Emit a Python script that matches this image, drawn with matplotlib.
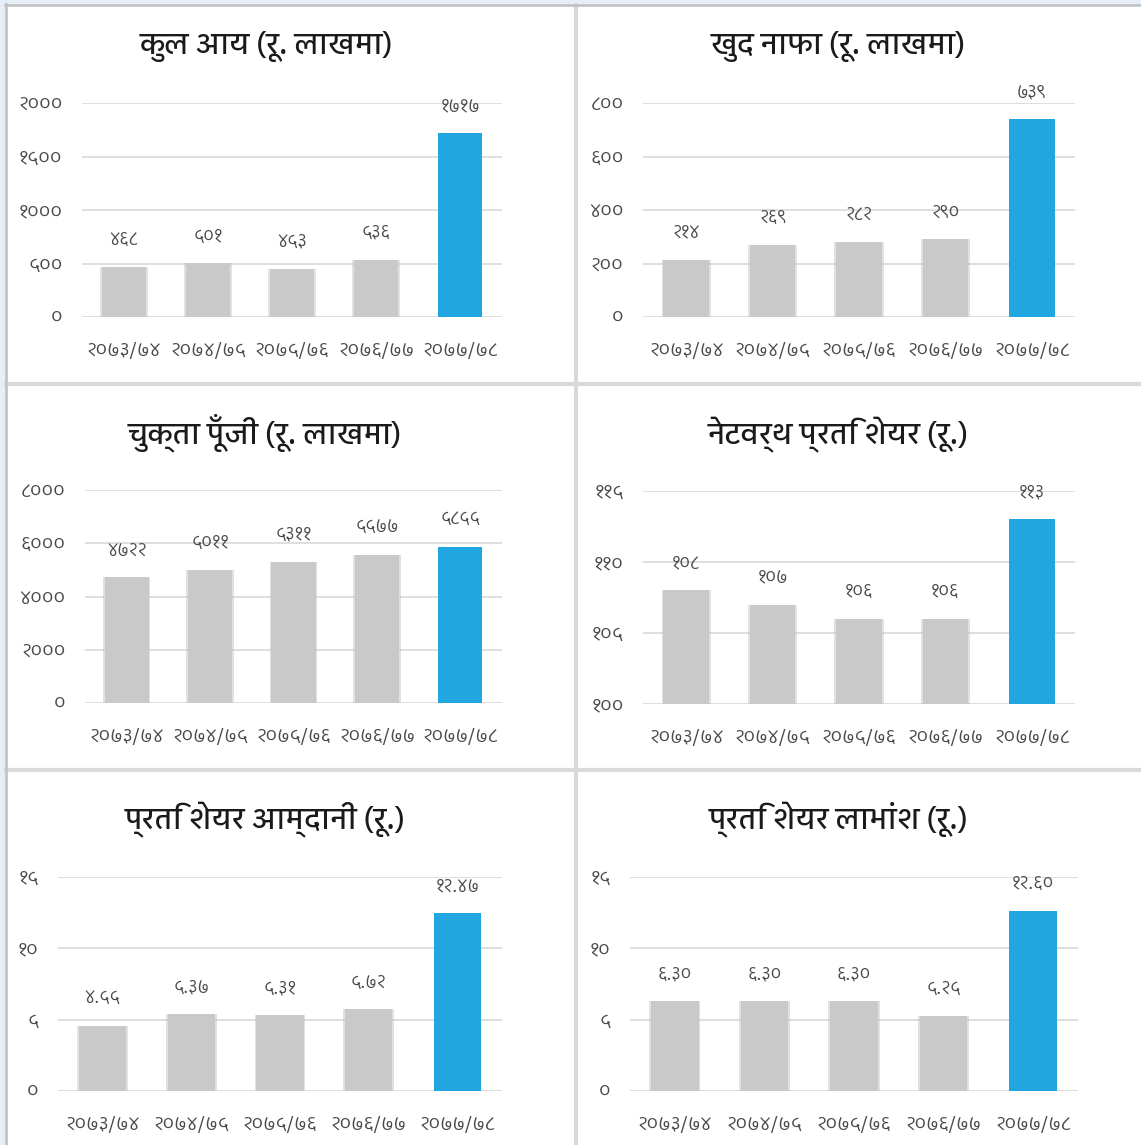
import matplotlib
matplotlib.use("Agg")
import matplotlib.pyplot as plt
from matplotlib import font_manager
from matplotlib.ft2font import FT2Font
from matplotlib.lines import Line2D
from matplotlib.patches import Rectangle

# ---------------- data ----------------
categories = ["२०७३/७४", "२०७४/७५", "२०७५/७६", "२०७६/७७", "२०७७/७८"]

titles = [
    "कुल आय (रू. लाखमा)",
    "खुद नाफा (रू. लाखमा)",
    "चुक्ता पूँजी (रू. लाखमा)",
    "नेटवर्थ प्रति शेयर (रू.)",
    "प्रति शेयर आम्दानी (रू.)",
    "प्रति शेयर लाभांश (रू.)",
]

total_income = [468, 501, 453, 536, 1717]
net_profit = [214, 269, 282, 290, 739]
paid_up_capital = [4722, 5011, 5311, 5577, 5855]
networth_per_share = [108, 107, 106, 106, 113]
eps = [4.55, 5.37, 5.31, 5.72, 12.47]
dps = [6.30, 6.30, 6.30, 5.25, 12.60]

total_income_labels = ["४६८", "५०१", "४५३", "५३६", "१७१७"]
net_profit_labels = ["२१४", "२६९", "२८२", "२९०", "७३९"]
paid_up_capital_labels = ["४७२२", "५०११", "५३११", "५५७७", "५८५५"]
networth_labels = ["१०८", "१०७", "१०६", "१०६", "११३"]
eps_labels = ["४.५५", "५.३७", "५.३१", "५.७२", "१२.४७"]
dps_labels = ["६.३०", "६.३०", "६.३०", "५.२५", "१२.६०"]

yticks_income = [0, 500, 1000, 1500, 2000]
yticklabels_income = ["०", "५००", "१०००", "१५००", "२०००"]
yticks_profit = [0, 200, 400, 600, 800]
yticklabels_profit = ["०", "२००", "४००", "६००", "८००"]
yticks_capital = [0, 2000, 4000, 6000, 8000]
yticklabels_capital = ["०", "२०००", "४०००", "६०००", "८०००"]
yticks_networth = [100, 105, 110, 115]
yticklabels_networth = ["१००", "१०५", "११०", "११५"]
yticks_eps = [0, 5, 10, 15]
yticklabels_eps = ["०", "५", "१०", "१५"]
yticks_dps = [0, 5, 10, 15]
yticklabels_dps = ["०", "५", "१०", "१५"]

# ---------------- font lookup (Devanagari) ----------------
def find_deva_font():
    best = None
    for fe in font_manager.fontManager.ttflist:
        try:
            cmap = FT2Font(fe.fname).get_charmap()
        except Exception:
            continue
        if 0x0915 in cmap and 0x0967 in cmap:
            if "Devanagari" in fe.name or best is None:
                best = fe.name
                if "Devanagari" in fe.name and fe.weight in (400, "normal", "regular"):
                    return fe.name
    return best

deva = find_deva_font()
FAM = [deva, "DejaVu Sans"] if deva else ["DejaVu Sans"]
plt.rcParams["font.family"] = FAM

W, H = 1141, 1145
fig = plt.figure(figsize=(W / 100, H / 100), dpi=100)
fig.patch.set_facecolor("white")

GRAY = "#c9c9c9"
BLUE = "#22a6e0"
GRID = "#d9d9d9"
TXT = "#4a4a4a"

panels = [
    # data, labels, yticks, yticklabels, ylim, axes px (x0, x1, ytop, ybot), title center (x, y)
    (total_income, total_income_labels, yticks_income, yticklabels_income, (0, 2000), (82, 502, 103, 317), (266, 47)),
    (net_profit, net_profit_labels, yticks_profit, yticklabels_profit, (0, 800), (643, 1075, 103, 317), (838, 47)),
    (paid_up_capital, paid_up_capital_labels, yticks_capital, yticklabels_capital, (0, 8000), (85, 502, 490, 703), (265, 433)),
    (networth_per_share, networth_labels, yticks_networth, yticklabels_networth, (100, 115), (643, 1075, 491, 704), (838, 435)),
    (eps, eps_labels, yticks_eps, yticklabels_eps, (0, 15), (58, 502, 877, 1091), (265, 820)),
    (dps, dps_labels, yticks_dps, yticklabels_dps, (0, 15), (630, 1078, 877, 1091), (838, 820)),
]

for (vals, labs, yt, ytl, ylim, (x0, x1, yt_px, yb_px), (tx, ty)), title in zip(panels, titles):
    ax = fig.add_axes([x0 / W, 1 - yb_px / H, (x1 - x0) / W, (yb_px - yt_px) / H])
    ax.set_facecolor("none")
    xs = list(range(len(categories)))
    colors = [GRAY] * (len(vals) - 1) + [BLUE]
    base = ylim[0]
    heights = [v - base for v in vals]
    # soft shadow behind gray bars
    ax.bar(xs[:-1], heights[:-1], width=0.57, bottom=base, color="#bdbdbd", alpha=0.45, zorder=2)
    ax.bar(xs, heights, width=0.53, bottom=base, color=colors, zorder=3)
    ax.set_xlim(-0.5, 4.5)
    ax.set_ylim(*ylim)
    ax.set_yticks(yt)
    ax.set_yticklabels(ytl)
    ax.set_xticks(xs)
    ax.set_xticklabels(categories)
    ax.grid(axis="y", color=GRID, linewidth=1.2, zorder=0)
    for s in ax.spines.values():
        s.set_visible(False)
    ax.tick_params(axis="both", length=0, colors=TXT, labelsize=14)
    ax.tick_params(axis="y", pad=14)
    ax.tick_params(axis="x", pad=18)
    for x, v, lab in zip(xs, vals, labs):
        ax.annotate(lab, (x, v), xytext=(0, 13), textcoords="offset points",
                    ha="center", va="bottom", fontsize=13, color=TXT)
    fig.text(tx / W, 1 - ty / H, title, ha="center", va="center", fontsize=21,
             fontweight="medium", color="#1a1a1a")

# dividers and border
fig.add_artist(Line2D([576 / W, 576 / W], [0, 1 - 5 / H], color="#d9d9d9", linewidth=3, transform=fig.transFigure))
for yy in (384, 770):
    fig.add_artist(Line2D([6 / W, 1], [1 - yy / H, 1 - yy / H], color="#d9d9d9", linewidth=3, transform=fig.transFigure))
fig.add_artist(Rectangle((0, 0), 4 / W, 1, color="#e6eef7", transform=fig.transFigure))
fig.add_artist(Rectangle((0, 1 - 3 / H), 1, 3 / H, color="#e6eef7", transform=fig.transFigure))
fig.add_artist(Line2D([6 / W, 6 / W], [0, 1 - 4 / H], color="#c4c4c4", linewidth=2, transform=fig.transFigure))
fig.add_artist(Line2D([5 / W, 1], [1 - 4.5 / H, 1 - 4.5 / H], color="#c4c4c4", linewidth=2, transform=fig.transFigure))

fig.savefig("out.png", dpi=100, facecolor="white")
